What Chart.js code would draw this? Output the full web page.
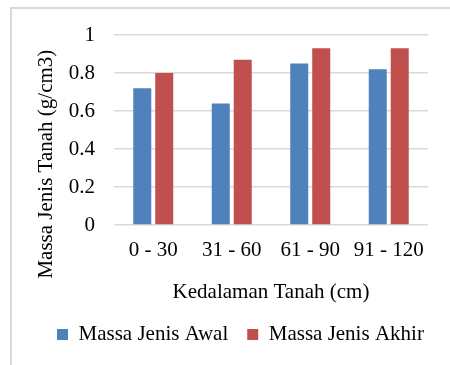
<!DOCTYPE html>
<html>
<head>
<meta charset="utf-8">
<script src="https://cdn.jsdelivr.net/npm/chart.js@4"></script>
<style>
html,body{margin:0;padding:0;background:#fff;}
#wrap{width:450px;height:365px;position:relative;}
</style>
</head>
<body>
<div id="wrap"><canvas id="c" width="450" height="365"></canvas></div>
<script>
const categories = ["0 - 30", "31 - 60", "61 - 90", "91 - 120"];
const awal = [0.72, 0.64, 0.85, 0.82];
const akhir = [0.80, 0.87, 0.93, 0.93];
const seriesNames = ["Massa Jenis Awal", "Massa Jenis Akhir"];
const yTicks = [0, 0.2, 0.4, 0.6, 0.8, 1];
const yTitle = "Massa Jenis Tanah (g/cm3)";
const xTitle = "Kedalaman Tanah (cm)";

const FONT = "'Liberation Serif', 'Times New Roman', serif";
const FS = 21;

const frame = {
  id: 'frame',
  beforeDraw(chart) {
    const ctx = chart.ctx;
    ctx.save();
    ctx.fillStyle = '#fff';
    ctx.fillRect(0, 0, chart.width, chart.height);
    ctx.strokeStyle = '#d9d9d9';
    ctx.lineWidth = 2;
    ctx.beginPath();
    ctx.moveTo(11, chart.height + 5);
    ctx.lineTo(11, 8);
    ctx.lineTo(chart.width + 5, 8);
    ctx.stroke();
    ctx.restore();
  }
};

function build() {
  // trailing spaces shift the centred vertical title downward, as in the reference
  const yTitleText = yTitle + " ".repeat(13);
  new Chart(document.getElementById('c'), {
    type: 'bar',
    data: {
      labels: categories,
      datasets: [
        { label: seriesNames[0], data: awal, backgroundColor: '#4f81bd', borderWidth: 0,
          categoryPercentage: 0.56, barPercentage: 0.82 },
        { label: seriesNames[1], data: akhir, backgroundColor: '#c0504d', borderWidth: 0,
          categoryPercentage: 0.56, barPercentage: 0.82 }
      ]
    },
    options: {
      responsive: false,
      animation: false,
      devicePixelRatio: 1,
      layout: { padding: { top: 35, right: 0, bottom: 10, left: 38 } },
      plugins: {
        legend: {
          position: 'bottom',
          align: 'start',
          labels: {
            boxWidth: 11, boxHeight: 11, padding: 19,
            color: '#000',
            font: { family: FONT, size: FS }
          }
        },
        tooltip: { enabled: false }
      },
      scales: {
        x: {
          grid: { display: false, drawTicks: false },
          border: { display: false },
          ticks: { color: '#000', font: { family: FONT, size: FS }, padding: 13, maxRotation: 0 },
          title: { display: true, text: xTitle, color: '#000',
                   font: { family: FONT, size: FS }, padding: { top: 4, bottom: 0 } },
          afterFit(scale) { scale.height = 80; }
        },
        y: {
          min: 0, max: 1,
          afterBuildTicks(scale) { scale.ticks = yTicks.map(v => ({ value: v })); },
          grid: { color: '#d9d9d9', lineWidth: 1.5, drawTicks: false },
          border: { display: false },
          ticks: { color: '#000', font: { family: FONT, size: FS }, padding: 19,
                   callback: v => String(Number(v.toFixed(1))) },
          title: { display: true, text: yTitleText, color: '#000',
                   font: { family: FONT, size: FS }, padding: { top: -4, bottom: 0 } },
          afterFit(scale) { scale.width = 76; }
        },
        yRight: {
          position: 'right',
          display: true,
          min: 0, max: 1,
          grid: { display: false, drawTicks: false },
          border: { display: false },
          ticks: { display: false },
          afterFit(scale) { scale.width = 22; }
        }
      }
    },
    plugins: [frame]
  });
}

if (document.fonts && document.fonts.load) {
  document.fonts.load(FS + "px 'Liberation Serif'").then(build, build);
} else {
  build();
}
</script>
</body>
</html>
